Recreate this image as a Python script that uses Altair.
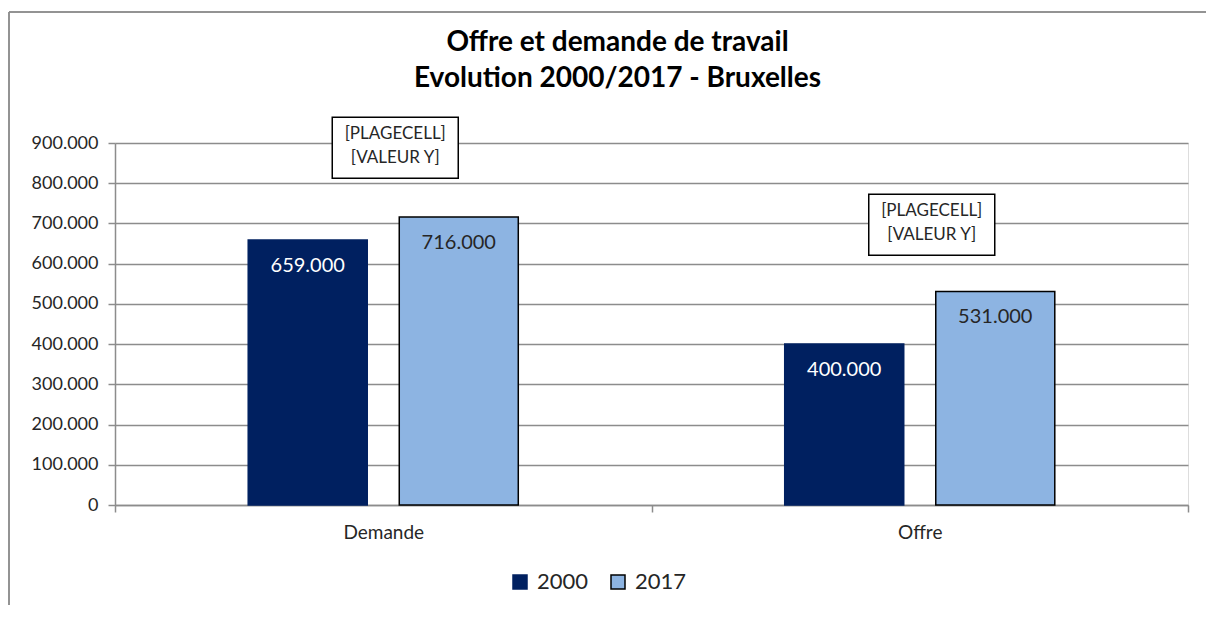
import altair as alt
import pandas as pd

# ---- data ----
categories = ["Demande", "Offre"]
years = ["2000", "2017"]
values_2000 = [659000, 400000]
values_2017 = [716000, 531000]
annot_values = [888000, 697000]
annot_label = "[PLAGECELL]\n[VALEUR Y]"
y_ticks = [0, 100000, 200000, 300000, 400000, 500000, 600000, 700000, 800000, 900000]

rows = []
for i, c in enumerate(categories):
    rows.append({"cat": c, "year": years[0], "val": values_2000[i]})
    rows.append({"cat": c, "year": years[1], "val": values_2017[i]})
df = pd.DataFrame(rows)
df_annot = pd.DataFrame({"cat": categories, "val": annot_values,
                         "txt": [annot_label] * len(categories)})

FONT = "Lato"
GRID = "#8c8c8c"
TXT = "#262626"
C2000 = "#002060"
C2017 = "#8db4e2"

x_enc = alt.X("cat:N", sort=categories,
              scale=alt.Scale(paddingInner=0, paddingOuter=0),
              axis=alt.Axis(title=None, labelAngle=0, tickBand="extent",
                            domainColor=GRID, tickColor=GRID, domainWidth=1.5,
                            tickWidth=1.5, tickSize=7, labelPadding=11,
                            labelFont=FONT, labelFontSize=19, labelColor=TXT,
                            grid=False))
y_enc = alt.Y("val:Q",
              scale=alt.Scale(domain=[0, 900000], nice=False),
              axis=alt.Axis(title=None, values=y_ticks, format=",.0f",
                            domainColor=GRID, tickColor=GRID, domainWidth=1.5,
                            tickWidth=1.5, tickSize=7, labelPadding=10,
                            gridColor=GRID, gridWidth=1.5,
                            labelFont=FONT, labelFontSize=18, labelColor=TXT))
xoff = alt.XOffset("year:N", sort=years,
                   scale=alt.Scale(paddingInner=0.212, paddingOuter=0.882))

leg = dict(title=None, orient="none", legendX=394, legendY=428,
           direction="horizontal", symbolType="square",
           symbolSize=196, labelFont=FONT, labelFontSize=22,
           labelColor=TXT, columnPadding=18, labelOffset=6)

bars = alt.Chart(df).mark_bar(strokeWidth=1.5).encode(
    x=x_enc, y=y_enc, xOffset=xoff,
    fill=alt.Fill("year:N", sort=years,
                  scale=alt.Scale(domain=years, range=[C2000, C2017]),
                  legend=alt.Legend(**leg)),
    stroke=alt.Stroke("year:N", sort=years,
                      scale=alt.Scale(domain=years, range=[C2000, "#000000"]),
                      legend=alt.Legend(**leg)),
)

labels = alt.Chart(df).mark_text(baseline="middle", dy=26, font=FONT, fontSize=20).encode(
    x=alt.X("cat:N", sort=categories), y="val:Q", xOffset=alt.XOffset("year:N", sort=years),
    text=alt.Text("val:Q", format=",.0f"),
    color=alt.Color("year:N", scale=alt.Scale(domain=years, range=["#ffffff", TXT]), legend=None),
)

box_shape = "M-1,-0.484L1,-0.484L1,0.484L-1,0.484Z"
boxes = alt.Chart(df_annot).mark_point(shape=box_shape, size=15876, filled=True,
                                       fill="white", stroke="#000000", strokeWidth=1.5,
                                       opacity=1, xOffset=12).encode(
    x=alt.X("cat:N", sort=categories), y="val:Q")
box_text = alt.Chart(df_annot).mark_text(lineBreak="\n", lineHeight=24, font=FONT,
                                         fontSize=17, color=TXT, baseline="middle",
                                         dx=12, dy=-14).encode(
    x=alt.X("cat:N", sort=categories), y="val:Q", text="txt:N")

frame = alt.Chart(df_annot).mark_rule(color=GRID, strokeWidth=1.5).encode(
    x=alt.value(-106), y=alt.value(-131), y2=alt.value(500))
frame_top = alt.Chart(df_annot).mark_rule(color=GRID, strokeWidth=1.5).encode(
    x=alt.value(-106), x2=alt.value(1120), y=alt.value(-131))

chart = alt.layer(frame, frame_top, bars, labels, boxes, box_text).properties(
    width=1073, height=362,
    autosize=alt.AutoSizeParams(type="none"),
    padding={"left": 107, "top": 135, "right": 18, "bottom": 100},
    title=alt.Title(["Offre et demande de travail", "Evolution 2000/2017 - Bruxelles"],
                    font=FONT, fontSize=28, fontWeight="bold", color="#000000",
                    anchor="middle", lineHeight=36, offset=0, dy=104, dx=-34,
                    baseline="alphabetic", frame="group"),
).configure_view(stroke=None).configure(
    background="white",
    locale={"number": {"decimal": ",", "thousands": ".", "grouping": [3],
                       "currency": ["", " €"]}},
)

chart.save("out.html", embed_options={"renderer": "svg", "actions": False})
